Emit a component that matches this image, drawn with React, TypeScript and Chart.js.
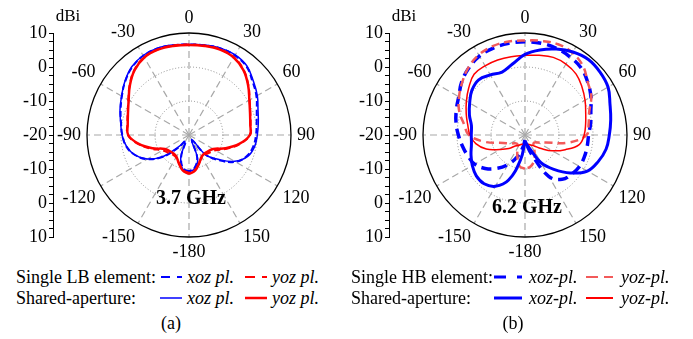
import React, { useEffect, useRef } from "react";
import { Chart, registerables } from "chart.js";

Chart.register(...registerables);

const FONT = '"Liberation Serif", "Times New Roman", Times, "DejaVu Serif", serif';

// Angles (deg, clockwise from broadside) and radial range in dBi
const ANGLES = [-180, -170, -160, -150, -140, -130, -120, -110, -100, -90, -80, -70, -60, -50, -40, -30, -20, -10, 0, 10, 20, 30, 40, 50, 60, 70, 80, 90, 100, 110, 120, 130, 140, 150, 160, 170, 180];
const DB_MIN = -20;
const DB_MAX = 10;
const RING_DB = [-10, 0];
const TICK_ANGLES = [0, 30, 60, 90, 120, 150, 180, 210, 240, 270, 300, 330];
const ANGLE_LABELS = ["0", "30", "60", "90", "120", "150", "-180", "-150", "-120", "-90", "-60", "-30"];

// (a) 3.7 GHz
const LB_XOZ_SINGLE = [-9.3, -10.0, -13.3, -18.0, -15.2, -10.0, -5.8, -3.0, -1.2, -0.4, 0.3, 1.4, 2.8, 4.5, 6.0, 6.9, 7.1, 6.8, 6.6, 6.8, 7.1, 7.0, 6.3, 4.4, 2.9, 1.2, 0.2, -0.3, -0.8, -1.9, -4.2, -8.4, -12.5, -18.0, -13.0, -10.3, -9.3];
const LB_YOZ_SINGLE = [-8.8, -9.6, -11.3, -12.4, -12.5, -12.0, -11.0, -8.2, -4.8, -2.0, -1.6, -0.8, 0.6, 2.8, 5.0, 6.4, 6.8, 6.7, 6.6, 6.7, 6.8, 6.4, 5.0, 2.8, 0.6, -0.8, -1.6, -2.0, -4.8, -8.2, -11.0, -12.0, -12.5, -12.4, -11.3, -9.6, -8.8];
const LB_XOZ_SHARED = [-9.1, -9.7, -12.9, -17.6, -15.8, -10.3, -5.9, -3.0, -1.3, -0.3, 0.4, 1.6, 2.9, 4.6, 6.2, 7.0, 7.2, 6.9, 6.6, 6.9, 7.2, 7.2, 6.5, 4.7, 3.2, 1.6, 0.7, 0.1, -0.4, -1.6, -4.5, -8.9, -12.4, -18.5, -12.6, -10.0, -9.1];
const LB_YOZ_SHARED = [-8.5, -9.4, -11.2, -12.6, -12.9, -12.6, -11.8, -8.6, -5.0, -2.1, -1.7, -0.9, 0.5, 2.7, 4.9, 6.3, 6.7, 6.6, 6.5, 6.6, 6.7, 6.3, 4.9, 2.7, 0.5, -0.9, -1.7, -2.1, -5.0, -8.6, -11.8, -12.6, -12.9, -12.6, -11.2, -9.4, -8.5];

// (b) 6.2 GHz
const HB_XOZ_SINGLE = [-18.5, -16.2, -13.1, -10.0, -7.2, -4.7, -2.9, -2.1, -1.3, -0.4, 0.6, 1.5, 2.5, 4.3, 5.7, 6.8, 7.2, 7.4, 7.4, 7.4, 7.1, 6.5, 5.7, 4.1, 2.4, 0.6, -0.4, -1.3, -1.4, -1.4, -1.5, -2.1, -3.0, -5.9, -13.5, -17.1, -18.5];
const HB_YOZ_SINGLE = [-10.1, -10.7, -13.4, -15.6, -16.5, -16.2, -15.0, -13.2, -8.2, -3.5, -1.8, 0.6, 2.4, 4.1, 5.9, 7.2, 7.8, 7.9, 7.8, 8.1, 8.4, 7.9, 6.5, 4.1, 2.5, 0.1, -1.0, -1.9, -7.1, -13.5, -15.6, -16.5, -16.2, -14.4, -12.1, -10.6, -10.1];
const HB_XOZ_SHARED = [-18.2, -12.7, -5.9, -2.6, -1.3, -1.3, -2.1, -3.1, -4.0, -4.2, -4.0, -2.6, -1.2, 0.4, 1.2, 0.4, -0.3, 1.2, 3.7, 5.4, 6.9, 8.2, 9.0, 8.8, 8.2, 6.6, 5.6, 4.8, 4.2, 2.9, 1.2, -2.6, -6.8, -10.6, -15.6, -17.4, -18.2];
const HB_YOZ_SHARED = [-17.0, -17.2, -17.1, -16.5, -15.9, -13.8, -11.5, -7.9, -5.3, -3.8, -2.9, -1.6, -0.1, 1.6, 3.3, 3.5, 3.5, 3.4, 3.4, 3.8, 4.3, 4.1, 3.4, 1.9, 0.4, -1.0, -1.9, -2.6, -3.8, -7.4, -10.7, -13.8, -15.8, -16.6, -17.1, -17.2, -17.0];

const BLUE = "#0000ff";
const RED = "#ff0000";
const SALMON = "#f25a5a";

function toXY(angles: number[], db: number[]) {
  return angles.map((a, i) => {
    const r = Math.max(0, db[i] - DB_MIN);
    const t = (a * Math.PI) / 180;
    return { x: r * Math.sin(t), y: r * Math.cos(t) };
  });
}

const polarPlugin = {
  id: "polarGrid",
  beforeDatasetsDraw(chart: any, _args: any, opts: any) {
    const { ctx, scales, chartArea } = chart;
    const x = scales.x;
    const y = scales.y;
    const cx = x.getPixelForValue(0);
    const cy = y.getPixelForValue(0);
    const rad = (db: number) => x.getPixelForValue(db - DB_MIN) - cx;
    const R = rad(DB_MAX);
    ctx.save();
    ctx.strokeStyle = "#8c8c8c";
    ctx.lineWidth = 1;
    ctx.setLineDash([1, 2]);
    RING_DB.forEach((g) => {
      ctx.beginPath();
      ctx.arc(cx, cy, rad(g), 0, Math.PI * 2);
      ctx.stroke();
    });
    ctx.setLineDash([7, 4]);
    ctx.strokeStyle = "#a8a8a8";
    ctx.lineWidth = 1.2;
    TICK_ANGLES.forEach((a) => {
      const t = (a * Math.PI) / 180;
      ctx.beginPath();
      ctx.moveTo(cx, cy);
      ctx.lineTo(cx + R * Math.sin(t), cy - R * Math.cos(t));
      ctx.stroke();
    });
    ctx.setLineDash([]);
    ctx.strokeStyle = "#000";
    ctx.lineWidth = 1.3;
    ctx.beginPath();
    ctx.arc(cx, cy, R, 0, Math.PI * 2);
    ctx.stroke();
    ctx.fillStyle = "#000";
    ctx.font = `18px ${FONT}`;
    TICK_ANGLES.forEach((a, i) => {
      const t = (a * Math.PI) / 180;
      const s = Math.sin(t);
      const c = Math.cos(t);
      const rr = R + 6;
      const px = cx + rr * s;
      const py = cy - rr * c;
      ctx.textAlign = s > 0.05 ? "left" : s < -0.05 ? "right" : "center";
      ctx.textBaseline = c > 0.05 ? "bottom" : c < -0.05 ? "top" : "middle";
      ctx.fillText(ANGLE_LABELS[i], px, py);
    });
    ctx.textAlign = "center";
    ctx.textBaseline = "middle";
    ctx.font = `17px ${FONT}`;
    ctx.fillText("dBi", chartArea.left + 15, chartArea.top - 16);
    ctx.restore();
  },
  afterDatasetsDraw(chart: any, _args: any, opts: any) {
    const { ctx, scales } = chart;
    const cx = scales.x.getPixelForValue(0);
    const cy = scales.y.getPixelForValue(0);
    ctx.save();
    ctx.fillStyle = "#000";
    ctx.font = `bold 20px ${FONT}`;
    ctx.textAlign = "center";
    ctx.textBaseline = "middle";
    ctx.fillText(opts.freq, cx + 2, cy + opts.freqOffset);
    ctx.restore();
  },
};

type Series = { values: number[]; color: string; width: number; dash: number[] };

function PolarChart({ series, freq, freqOffset }: { series: Series[]; freq: string; freqOffset: number }) {
  const ref = useRef<HTMLCanvasElement | null>(null);
  useEffect(() => {
    if (!ref.current) return;
    const chart = new Chart(ref.current, {
      type: "scatter",
      data: {
        datasets: series.map((s) => ({
          data: toXY(ANGLES, s.values),
          showLine: true,
          borderColor: s.color,
          borderWidth: s.width,
          borderDash: s.dash,
          pointRadius: 0,
          tension: 0.4,
          fill: false,
        })),
      },
      options: {
        responsive: false,
        animation: false,
        devicePixelRatio: 1,
        layout: { padding: { left: 0, right: 21, top: 33, bottom: 21 } },
        plugins: {
          legend: { display: false },
          tooltip: { enabled: false },
          polarGrid: { freq, freqOffset },
        } as any,
        scales: {
          x: { type: "linear", min: -40, max: 40, display: false },
          y: {
            type: "linear",
            min: -30,
            max: 30,
            position: "left",
            afterFit: (s: any) => {
              s.width = 53;
            },
            ticks: {
              stepSize: 2.5,
              autoSkip: false,
              padding: 2,
              color: "#000",
              font: { family: FONT, size: 18 },
              callback: (v: any) => (Math.abs(v) % 10 === 0 ? String(Math.abs(v) - 20) : ""),
            },
            grid: { drawOnChartArea: false, drawTicks: true, tickLength: 4, color: "#000", tickWidth: 1 },
            border: { display: true, color: "#000", width: 1 },
          },
        },
      } as any,
      plugins: [polarPlugin],
    });
    return () => chart.destroy();
  }, []);
  return <canvas ref={ref} width={346} height={258} style={{ width: 346, height: 258, display: "block" }} />;
}

const textStyle: React.CSSProperties = {
  position: "absolute",
  fontFamily: FONT,
  fontSize: 18,
  lineHeight: "22px",
  whiteSpace: "nowrap",
  color: "#000",
};

function Sample({ left, top, width, color, lw, dash }: { left: number; top: number; width: number; color: string; lw: number; dash?: string }) {
  return (
    <svg width={width} height={10} style={{ position: "absolute", left, top: top - 5 }}>
      <line x1={0} y1={5} x2={width} y2={5} stroke={color} strokeWidth={lw} strokeDasharray={dash} />
    </svg>
  );
}

function Label({ left, cy, children, italic }: { left: number; cy: number; children: React.ReactNode; italic?: boolean }) {
  return <div style={{ ...textStyle, left, top: cy - 11, fontStyle: italic ? "italic" : "normal" }}>{children}</div>;
}

export default function App() {
  const r1 = 277;
  const r2 = 298;
  return (
    <div style={{ position: "absolute", left: 0, top: 0, width: 693, height: 339, background: "#fff", overflow: "hidden" }}>
      <div style={{ position: "absolute", left: 0, top: 0 }}>
        <PolarChart
          freq="3.7 GHz"
          freqOffset={64}
          series={[
            { values: LB_YOZ_SHARED, color: RED, width: 2.5, dash: [] },
            { values: LB_YOZ_SINGLE, color: RED, width: 2, dash: [6, 4] },
            { values: LB_XOZ_SHARED, color: BLUE, width: 1.5, dash: [] },
            { values: LB_XOZ_SINGLE, color: BLUE, width: 2, dash: [6, 3] },
          ]}
        />
      </div>
      <div style={{ position: "absolute", left: 336, top: 0 }}>
        <PolarChart
          freq="6.2 GHz"
          freqOffset={73}
          series={[
            { values: HB_XOZ_SHARED, color: BLUE, width: 3, dash: [] },
            { values: HB_YOZ_SHARED, color: RED, width: 1.5, dash: [] },
            { values: HB_YOZ_SINGLE, color: SALMON, width: 2.5, dash: [8, 5] },
            { values: HB_XOZ_SINGLE, color: BLUE, width: 3.5, dash: [10, 6] },
          ]}
        />
      </div>

      <Label left={16} cy={r1}>Single LB element:</Label>
      <Sample left={161} top={r1} width={21} color={BLUE} lw={2} dash="9 7" />
      <Label left={187} cy={r1} italic>xoz pl.</Label>
      <Sample left={245} top={r1} width={22} color={RED} lw={2} dash="10 7" />
      <Label left={272} cy={r1} italic>yoz pl.</Label>
      <Label left={16} cy={r2}>Shared-aperture:</Label>
      <Sample left={160} top={r2} width={22} color={BLUE} lw={1.5} />
      <Label left={187} cy={r2} italic>xoz pl.</Label>
      <Sample left={245} top={r2} width={22} color={RED} lw={2.5} />
      <Label left={272} cy={r2} italic>yoz pl.</Label>
      <div style={{ ...textStyle, left: 171, top: 312, transform: "translateX(-50%)" }}>(a)</div>

      <Label left={351} cy={r1}>Single HB element:</Label>
      <Sample left={494} top={r1} width={28} color={BLUE} lw={3} dash="12 11" />
      <Label left={529} cy={r1} italic>xoz-pl.</Label>
      <Sample left={586} top={r1} width={27} color={SALMON} lw={2} dash="12 6" />
      <Label left={621} cy={r1} italic>yoz-pl.</Label>
      <Label left={351} cy={r2}>Shared-aperture:</Label>
      <Sample left={494} top={r2} width={28} color={BLUE} lw={3} />
      <Label left={529} cy={r2} italic>xoz-pl.</Label>
      <Sample left={586} top={r2} width={27} color={RED} lw={2} />
      <Label left={621} cy={r2} italic>yoz-pl.</Label>
      <div style={{ ...textStyle, left: 513, top: 312, transform: "translateX(-50%)" }}>(b)</div>
    </div>
  );
}
